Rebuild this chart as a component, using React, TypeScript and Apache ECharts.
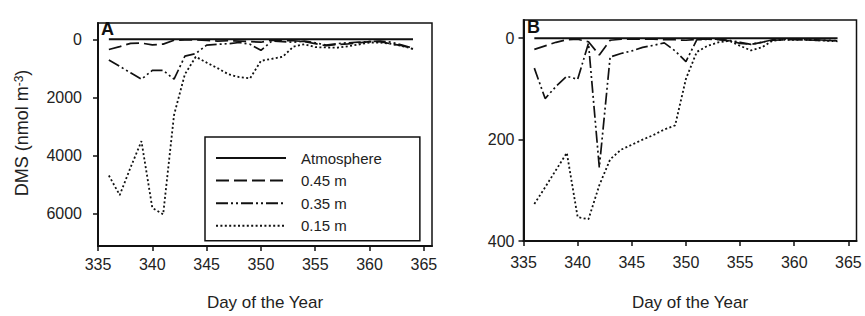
import React, { useEffect, useRef } from "react";
import * as echarts from "echarts";

// ---- data ----
const days = [336, 337, 338, 339, 340, 341, 342, 343, 344, 345, 346, 347, 348, 349, 350, 351, 352, 353, 354, 355, 356, 357, 358, 359, 360, 361, 362, 363, 364];
const seriesNames = ["Atmosphere", "0.45 m", "0.35 m", "0.15 m"];

// Panel A (DMS, nmol m^-3)
const atmosphereA = [0, 0, 0, 0, 0, 0, 0, 0, 0, 0, 0, 0, 0, 0, 0, 0, 0, 0, 0, 0, 0, 0, 0, 0, 0, 0, 0, 0, 0];
const depth045A = [350, 250, 140, 130, 190, 165, 30, 20, 20, 40, 60, 50, 60, 80, 100, 30, 40, 50, 80, 150, 220, 180, 160, 120, 80, 80, 160, 220, 330];
const depth035A = [710, 930, 1150, 1370, 1070, 1070, 1370, 580, 490, 200, 170, 150, 110, 170, 380, 60, 80, 100, 60, 120, 200, 150, 120, 100, 80, 60, 100, 200, 300];
const depth015A = [4680, 5350, 4400, 3500, 5790, 6010, 2600, 1200, 600, 800, 990, 1200, 1300, 1340, 740, 670, 600, 250, 170, 270, 280, 290, 240, 180, 110, 110, 160, 230, 330];

// Panel B (DMS, nmol m^-3)
const atmosphereB = [0, 0, 0, 0, 0, 0, 0, 0, 0, 0, 0, 0, 0, 0, 0, 0, 0, 0, 0, 0, 0, 0, 0, 0, 0, 0, 0, 0, 0];
const depth045B = [22, 15, 8, 3, 2, 7, 33, 4, 2, 2, 2, 2, 3, 3, 4, 2, 2, 3, 5, 10, 12, 8, 4, 3, 3, 3, 4, 4, 5];
const depth035B = [59, 119, 95, 75, 81, 10, 255, 37, 30, 25, 18, 14, 9, 25, 46, 3, 2, 2, 4, 8, 12, 8, 3, 2, 2, 3, 3, 4, 5];
const depth015B = [327, 294, 260, 226, 353, 357, 290, 239, 220, 210, 200, 191, 180, 172, 80, 27, 15, 8, 5, 15, 24, 18, 5, 3, 3, 3, 4, 5, 6];

const xTicks = [335, 340, 345, 350, 355, 360, 365];
const yTicksA = [0, 2000, 4000, 6000];
const yTicksB = [0, 200, 400];

const FONT = "'Liberation Sans', Arial, sans-serif";
const INK = "#111";

const lineTypes: any[] = ["solid", [13, 5], [12, 3, 2, 3, 2, 3], [2, 2.4]];
const lineWidths = [2, 1.7, 1.7, 1.8];

function makeSeries(values: number[][], axisIdx: number) {
  return values.map((vals, i) => ({
    name: seriesNames[i],
    type: "line",
    xAxisIndex: axisIdx,
    yAxisIndex: axisIdx,
    data: days.map((d, k) => [d, vals[k]]),
    symbol: "none",
    showSymbol: false,
    silent: true,
    lineStyle: { color: INK, width: lineWidths[i], type: lineTypes[i] },
    itemStyle: { color: INK },
  }));
}

function xAxisCfg(grid: number, labelMargin: number, nameGap: number) {
  return {
    gridIndex: grid,
    type: "value",
    position: "bottom",
    min: 335,
    max: 365.75,
    axisLine: { show: true, onZero: false, lineStyle: { color: INK, width: 2 } },
    axisTick: { show: true, length: 5, inside: false, customValues: xTicks, lineStyle: { color: INK, width: 1.5 } },
    axisLabel: { customValues: xTicks, fontSize: 16, color: "#222", fontFamily: FONT, margin: labelMargin, formatter: (v: number) => String(v) },
    splitLine: { show: false },
    name: "Day of the Year",
    nameLocation: "middle",
    nameGap: nameGap,
    nameTextStyle: { fontSize: 17, color: "#222", fontFamily: FONT },
  };
}

function yAxisCfg(grid: number, min: number, max: number, ticks: number[], labelMargin: number) {
  return {
    gridIndex: grid,
    type: "value",
    inverse: true,
    min,
    max,
    axisLine: { show: true, onZero: false, lineStyle: { color: INK, width: 2 } },
    axisTick: { show: true, length: 5, inside: false, customValues: ticks, lineStyle: { color: INK, width: 1.5 } },
    axisLabel: { customValues: ticks, fontSize: 16, color: "#222", fontFamily: FONT, margin: labelMargin, formatter: (v: number) => String(v) },
    splitLine: { show: false },
  };
}

export default function App() {
  const ref = useRef<HTMLDivElement>(null);
  useEffect(() => {
    if (!ref.current) return;
    const chart = echarts.init(ref.current, undefined, { renderer: "svg" });
    chart.setOption({
      animation: false,
      backgroundColor: "#fff",
      textStyle: { fontFamily: FONT },
      grid: [
        { left: 98, top: 23, width: 334, height: 232, show: true, borderColor: INK, borderWidth: 1.5, backgroundColor: "transparent" },
        { left: 523.5, top: 20, width: 333, height: 230.7, show: true, borderColor: INK, borderWidth: 1.5, backgroundColor: "transparent" },
      ],
      xAxis: [xAxisCfg(0, 10, 48), xAxisCfg(1, 13, 53)],
      yAxis: [yAxisCfg(0, -560, 7100, yTicksA, 16), yAxisCfg(1, -36, 400, yTicksB, 9)],
      legend: {
        data: seriesNames,
        orient: "vertical",
        left: 205,
        top: 137,
        itemWidth: 70,
        itemHeight: 16,
        itemGap: 6.6,
        padding: [13, 38, 7, 10],
        borderColor: INK,
        borderWidth: 1.5,
        backgroundColor: "#fff",
        selectedMode: false,
        itemStyle: { opacity: 0, borderWidth: 0 },
        textStyle: { fontSize: 15, color: "#222", fontFamily: FONT, padding: [0, 0, 0, 10], lineHeight: 16 },
      },
      graphic: [
        {
          type: "text",
          x: 22,
          y: 133,
          rotation: Math.PI / 2,
          style: {
            text: "DMS (nmol m{sup|-3})",
            fontSize: 18,
            fill: "#222",
            fontFamily: FONT,
            align: "center",
            verticalAlign: "middle",
            rich: { sup: { fontSize: 12, verticalAlign: "top", fill: "#222", fontFamily: FONT } },
          },
        },
        { type: "text", left: 101, top: 20, style: { text: "A", fontSize: 18, fontWeight: "bold", fill: INK, fontFamily: FONT } },
        { type: "text", left: 527, top: 18, style: { text: "B", fontSize: 18, fontWeight: "bold", fill: INK, fontFamily: FONT } },
      ],
      series: [
        ...makeSeries([atmosphereA, depth045A, depth035A, depth015A], 0),
        ...makeSeries([atmosphereB, depth045B, depth035B, depth015B], 1),
      ],
    });
    return () => chart.dispose();
  }, []);
  return <div ref={ref} style={{ position: "fixed", left: 0, top: 0, width: 865, height: 316 }} />;
}
